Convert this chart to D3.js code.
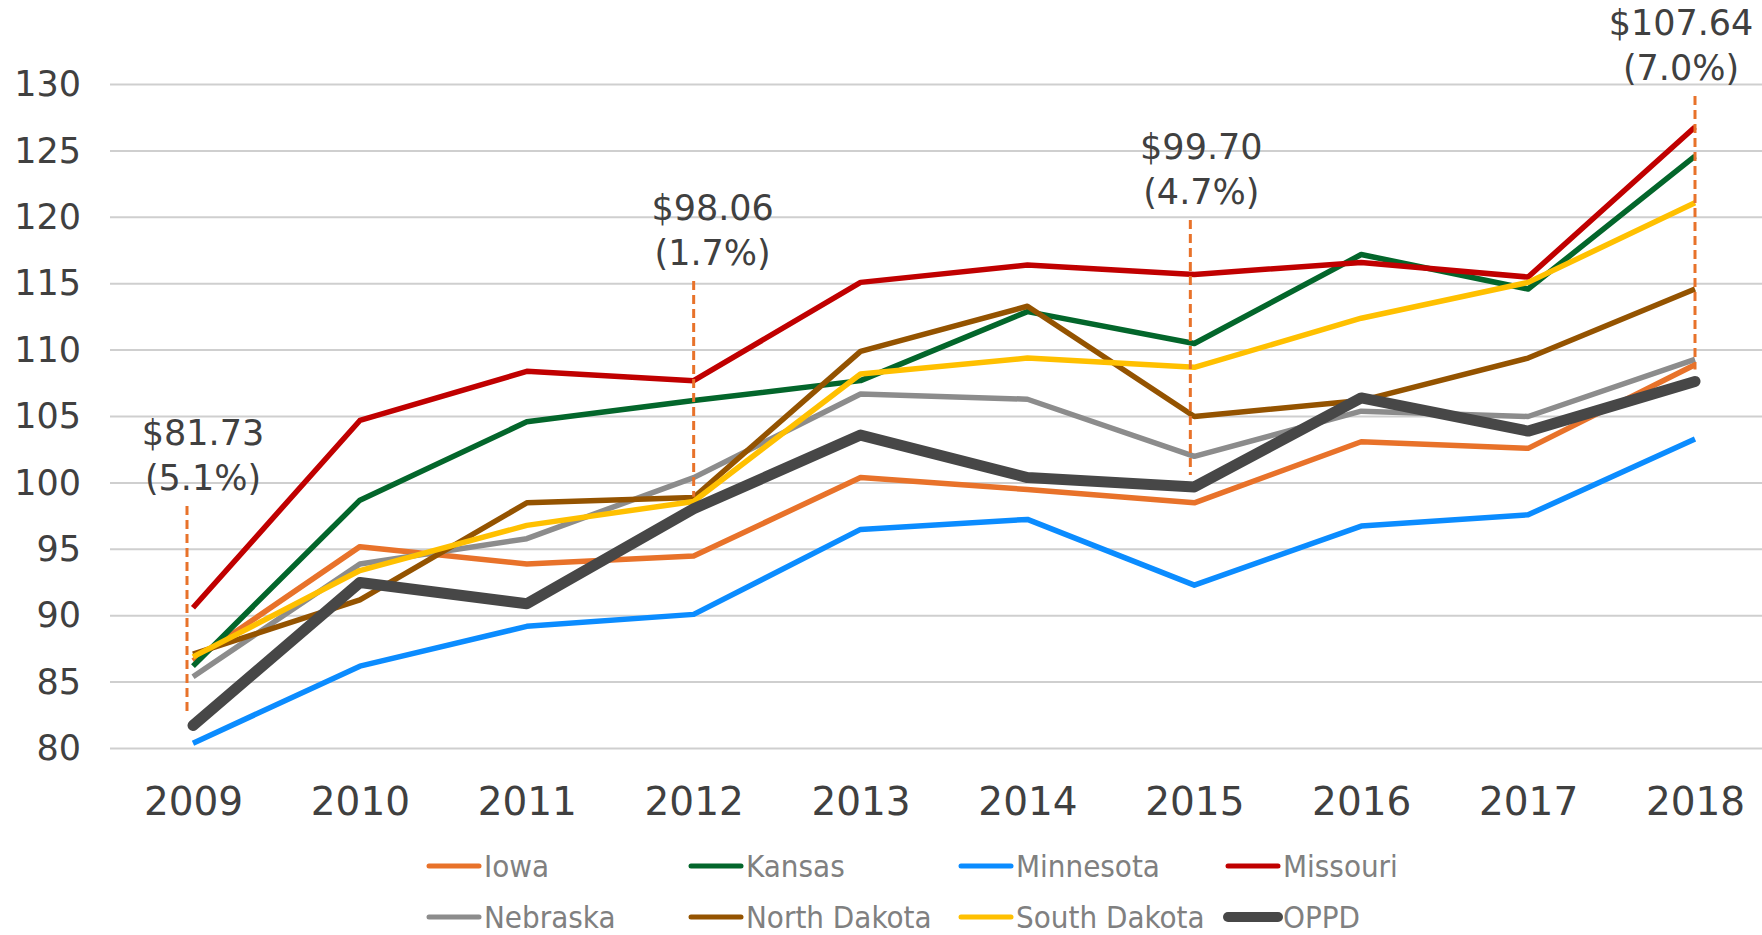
<!DOCTYPE html>
<html>
<head>
<meta charset="utf-8">
<script src="https://cdn.jsdelivr.net/npm/d3@7"></script>
<style>
  body { margin: 0; background: #ffffff; }
  svg { display: block; }
</style>
</head>
<body>
<div id="chart"></div>
<script>
var width = 1762;
var height = 935;

var years = ["2009", "2010", "2011", "2012", "2013", "2014", "2015", "2016", "2017", "2018"];
var yTicks = [80, 85, 90, 95, 100, 105, 110, 115, 120, 125, 130];

var seriesNames = ["Iowa", "Kansas", "Minnesota", "Missouri", "Nebraska", "North Dakota", "South Dakota", "OPPD"];

var iowa = [86.6, 95.2, 93.9, 94.5, 100.4, 99.5, 98.5, 103.1, 102.6, 108.9];
var kansas = [86.2, 98.7, 104.6, 106.2, 107.7, 112.9, 110.5, 117.2, 114.6, 124.6];
var minnesota = [80.4, 86.2, 89.2, 90.1, 96.5, 97.25, 92.3, 96.75, 97.6, 103.3];
var missouri = [90.6, 104.7, 108.4, 107.7, 115.1, 116.4, 115.7, 116.6, 115.5, 126.8];
var nebraska = [85.4, 93.9, 95.8, 100.4, 106.7, 106.3, 102.0, 105.4, 105.0, 109.3];
var northDakota = [87.1, 91.2, 98.5, 98.9, 109.9, 113.3, 105.0, 106.2, 109.4, 114.6];
var southDakota = [86.9, 93.4, 96.8, 98.6, 108.2, 109.4, 108.7, 112.4, 115.1, 121.1];
var oppd = [81.73, 92.5, 90.9, 98.06, 103.6, 100.4, 99.70, 106.4, 103.9, 107.64];

var annYears = ["2009", "2012", "2015", "2018"];
var annPrices = ["$81.73", "$98.06", "$99.70", "$107.64"];
var annPcts = ["(5.1%)", "(1.7%)", "(4.7%)", "(7.0%)"];

var colors = {
  "Iowa": "#e8722a",
  "Kansas": "#03662b",
  "Minnesota": "#0b8cff",
  "Missouri": "#c00000",
  "Nebraska": "#8c8c8c",
  "North Dakota": "#945300",
  "South Dakota": "#ffc000",
  "OPPD": "#474747"
};

var values = {
  "Iowa": iowa,
  "Kansas": kansas,
  "Minnesota": minnesota,
  "Missouri": missouri,
  "Nebraska": nebraska,
  "North Dakota": northDakota,
  "South Dakota": southDakota,
  "OPPD": oppd
};

// label layout for the four callouts (second text line baseline, text shift, dash shift)
var annLayout = {
  "2009": { base: 490, dx: 10, lineDx: -6 },
  "2012": { base: 265, dx: 19, lineDx: 0 },
  "2015": { base: 204, dx: 7, lineDx: -4 },
  "2018": { base: 80, dx: -14, lineDx: 0 }
};

var svg, x, y;

createSVG();
makeScales();
drawGrid();
drawAxes();
drawLines();
drawCallouts();
drawLegend();

function createSVG() {
  svg = d3.select("#chart")
    .append("svg")
    .attr("width", width)
    .attr("height", height);
}

function makeScales() {
  x = d3.scalePoint()
    .domain(years)
    .range([193, 1695]);

  y = d3.scaleLinear()
    .domain([80, 130])
    .range([748.5, 84.5]);
}

function drawGrid() {
  svg.append("g")
    .selectAll("line")
    .data(yTicks)
    .enter()
    .append("line")
    .attr("x1", 110)
    .attr("x2", width)
    .attr("y1", function(d) { return y(d); })
    .attr("y2", function(d) { return y(d); })
    .attr("stroke", "#cfcfcf")
    .attr("stroke-width", 2);
}

function drawAxes() {
  var yAxis = svg.append("g")
    .attr("transform", "translate(81,0)")
    .call(d3.axisLeft(y).tickValues(yTicks).tickSize(0).tickPadding(0));
  yAxis.select(".domain").remove();
  yAxis.selectAll("text")
    .attr("font-family", "DejaVu Sans, sans-serif")
    .attr("font-size", 35)
    .attr("fill", "#404040");

  var xAxis = svg.append("g")
    .attr("transform", "translate(0,787)")
    .call(d3.axisBottom(x).tickSize(0).tickPadding(0));
  xAxis.select(".domain").remove();
  xAxis.selectAll("text")
    .attr("font-family", "DejaVu Sans, sans-serif")
    .attr("font-size", 39)
    .attr("fill", "#404040");
}

function drawLines() {
  var line = d3.line()
    .x(function(d, i) { return x(years[i]); })
    .y(function(d) { return y(d); });

  svg.append("g")
    .selectAll("path")
    .data(seriesNames)
    .enter()
    .append("path")
    .attr("d", function(d) { return line(values[d]); })
    .attr("fill", "none")
    .attr("stroke", function(d) { return colors[d]; })
    .attr("stroke-width", function(d) { return d == "OPPD" ? 11 : 5.5; })
    .attr("stroke-linejoin", "round")
    .attr("stroke-linecap", function(d) { return d == "OPPD" ? "round" : "butt"; });
}

function drawCallouts() {
  var g = svg.append("g");

  annYears.forEach(function(yr, i) {
    var lay = annLayout[yr];
    var px = x(yr);
    var py = y(oppd[years.indexOf(yr)]);

    g.append("line")
      .attr("x1", px + lay.lineDx)
      .attr("x2", px + lay.lineDx)
      .attr("y1", lay.base + 16)
      .attr("y2", py - 12)
      .attr("stroke", "#e8722a")
      .attr("stroke-width", 3)
      .attr("stroke-dasharray", "9,5");

    g.append("text")
      .attr("x", px + lay.dx)
      .attr("y", lay.base - 45)
      .attr("text-anchor", "middle")
      .attr("font-family", "DejaVu Sans, sans-serif")
      .attr("font-size", 35)
      .attr("fill", "#404040")
      .text(annPrices[i]);

    g.append("text")
      .attr("x", px + lay.dx)
      .attr("y", lay.base)
      .attr("text-anchor", "middle")
      .attr("font-family", "DejaVu Sans, sans-serif")
      .attr("font-size", 35)
      .attr("fill", "#404040")
      .text(annPcts[i]);
  });
}

function drawLegend() {
  var colX = [426, 688, 958, 1225];
  var rowY = [866, 917];

  var items = svg.append("g")
    .selectAll("g")
    .data(seriesNames)
    .enter()
    .append("g")
    .attr("transform", function(d, i) {
      return "translate(" + colX[i % 4] + "," + rowY[Math.floor(i / 4)] + ")";
    });

  items.append("line")
    .attr("x1", 3)
    .attr("x2", 53)
    .attr("y1", 0)
    .attr("y2", 0)
    .attr("stroke", function(d) { return colors[d]; })
    .attr("stroke-width", function(d) { return d == "OPPD" ? 10 : 5; })
    .attr("stroke-linecap", "round");

  items.append("text")
    .attr("x", 58)
    .attr("y", 0)
    .attr("dy", "0.36em")
    .attr("font-family", "Liberation Sans Narrow, DejaVu Sans Condensed, sans-serif")
    .attr("font-size", 31)
    .attr("fill", "#808080")
    .text(function(d) { return d; });
}
</script>
</body>
</html>
